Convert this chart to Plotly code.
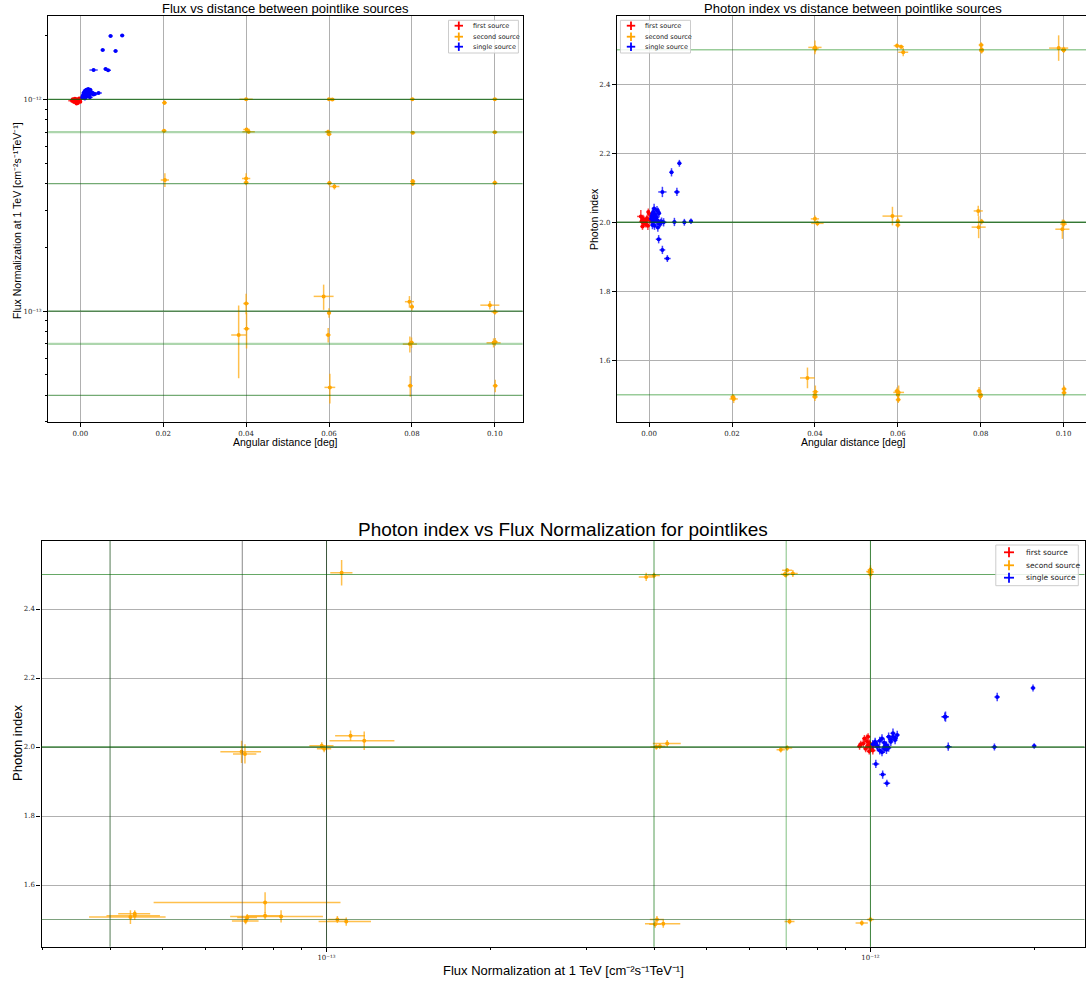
import math
import plotly.graph_objects as go

# ---------------------------------------------------------------------------
# Simulated (true) parameters of the second source
# ---------------------------------------------------------------------------
true_flux = [1e-12, 7e-13, 4e-13, 1e-13, 7e-14, 4e-14]
true_index = [2.5, 2.0, 1.5]

# ---------------------------------------------------------------------------
# Fit results: first source (reference pointlike)
# ---------------------------------------------------------------------------
first_dist = [-0.0020, -0.0015, -0.0012, -0.0010, -0.0008, -0.0005, -0.0003, 0.0000,
              -0.0018, -0.0006, -0.0013, -0.0002, -0.0009, -0.0016, 0.0002]
first_dist_err = [0.0009, 0.0006, 0.0005, 0.0006, 0.0005, 0.0004, 0.0005, 0.0004,
                  0.0005, 0.0004, 0.0005, 0.0004, 0.0005, 0.0005, 0.0004]
first_flux = [0.985e-12, 0.970e-12, 0.990e-12, 1.000e-12, 0.980e-12, 0.995e-12, 1.010e-12, 0.975e-12,
              1.000e-12, 0.960e-12, 1.005e-12, 0.990e-12, 0.955e-12, 0.995e-12, 1.012e-12]
first_flux_err = [0.012e-12, 0.010e-12, 0.010e-12, 0.012e-12, 0.010e-12, 0.010e-12, 0.012e-12, 0.010e-12,
                  0.010e-12, 0.010e-12, 0.012e-12, 0.010e-12, 0.010e-12, 0.010e-12, 0.010e-12]
first_index = [2.017, 2.010, 2.005, 2.000, 1.995, 2.012, 1.990, 2.025,
               2.003, 2.008, 1.998, 2.030, 2.002, 1.988, 2.006]
first_index_err = [0.019, 0.012, 0.010, 0.012, 0.010, 0.010, 0.012, 0.010,
                   0.010, 0.010, 0.012, 0.010, 0.010, 0.010, 0.010]

# ---------------------------------------------------------------------------
# Fit results: second source
# ---------------------------------------------------------------------------
second_dist = [0.0203, 0.0202, 0.0204,
               0.0400, 0.0401, 0.0406, 0.0400, 0.0400, 0.0400, 0.0401, 0.0382,
               0.0598, 0.0608, 0.0613, 0.0587, 0.0600, 0.0600, 0.0598, 0.0602, 0.0600, 0.0601,
               0.0801, 0.0802, 0.0802, 0.0802, 0.0794, 0.0795, 0.0800, 0.0799, 0.0796,
               0.0988, 0.1000, 0.1000, 0.1000, 0.0997, 0.1000, 0.1001, 0.1001]
second_dist_err = [0.0006, 0.0006, 0.0010,
                   0.0016, 0.0008, 0.0015, 0.0010, 0.0006, 0.0007, 0.0007, 0.0018,
                   0.0008, 0.0007, 0.0012, 0.0024, 0.0005, 0.0006, 0.0006, 0.0013, 0.0005, 0.0006,
                   0.0006, 0.0006, 0.0006, 0.0006, 0.0011, 0.0017, 0.0005, 0.0006, 0.0006,
                   0.0023, 0.0006, 0.0006, 0.0006, 0.0017, 0.0008, 0.0006, 0.0006]
second_flux = [9.64e-13, 7.10e-13, 4.16e-13,
               1.00e-12, 7.20e-13, 7.03e-13, 4.23e-13, 4.05e-13, 1.087e-13, 8.25e-14, 7.71e-14,
               7.03e-13, 9.97e-13, 3.87e-13, 1.173e-13, 9.80e-14, 6.84e-13, 7.71e-14, 4.36e-14, 1.00e-12, 4.02e-13,
               1.00e-12, 6.96e-13, 4.00e-13, 4.10e-13, 1.107e-13, 6.98e-14, 1.047e-13, 7.10e-14, 4.44e-14,
               1.066e-13, 1.00e-12, 6.99e-13, 4.04e-13, 7.08e-14, 9.90e-14, 7.15e-14, 4.44e-14]
second_flux_err = [2.5e-14, 1.5e-14, 3.1e-14,
                   1.5e-14, 1.5e-14, 1.5e-14, 2.5e-14, 1.2e-14, 1.2e-14, 1.6e-14, 2.9e-14,
                   1.5e-14, 1.5e-14, 1.2e-14, 1.6e-14, 5.0e-15, 1.2e-14, 6.0e-15, 7.0e-15, 1.5e-14, 1.0e-14,
                   1.2e-14, 1.2e-14, 1.0e-14, 1.0e-14, 7.0e-15, 6.0e-15, 4.0e-15, 4.0e-15, 5.0e-15,
                   5.0e-15, 1.2e-14, 1.0e-14, 1.0e-14, 3.5e-15, 3.0e-15, 3.0e-15, 3.0e-15]
second_index = [1.490, 1.494, 1.488,
                2.507, 2.503, 1.997, 2.010, 1.500, 1.494, 1.509, 1.549,
                2.512, 2.509, 2.493, 2.018, 2.004, 1.992, 1.511, 1.507, 1.500, 1.486,
                2.514, 2.501, 2.497, 2.002, 2.033, 1.986, 1.500, 1.496, 1.511,
                2.505, 2.501, 2.499, 2.000, 1.980, 1.995, 1.506, 1.517]
second_index_err = [0.008, 0.008, 0.012,
                    0.020, 0.010, 0.008, 0.010, 0.010, 0.012, 0.018, 0.030,
                    0.006, 0.006, 0.012, 0.027, 0.010, 0.008, 0.010, 0.020, 0.008, 0.010,
                    0.008, 0.008, 0.008, 0.008, 0.015, 0.032, 0.010, 0.010, 0.012,
                    0.037, 0.008, 0.008, 0.008, 0.028, 0.010, 0.010, 0.010]

# ---------------------------------------------------------------------------
# Fit results: both sources merged into a single pointlike
# ---------------------------------------------------------------------------
single_dist = [0.0073, 0.0101, 0.0054, 0.0085, 0.0032, 0.0061, 0.0067, 0.0023, 0.0032, 0.0044,
               0.0005, 0.0008, 0.0010, 0.0012, 0.0015, 0.0018, 0.0020, 0.0022, 0.0025, 0.0013,
               0.0009, 0.0016, 0.0019, 0.0027, 0.0011, 0.0014, 0.0006, 0.0021, 0.0017, 0.0030,
               0.0024, 0.0008, 0.0012, 0.0035]
single_dist_err = [0.0005, 0.0005, 0.0005, 0.0005, 0.0010, 0.0005, 0.0007, 0.0007, 0.0007, 0.0008,
                   0.0005, 0.0005, 0.0005, 0.0006, 0.0005, 0.0005, 0.0006, 0.0005, 0.0006, 0.0005,
                   0.0005, 0.0006, 0.0005, 0.0005, 0.0005, 0.0006, 0.0005, 0.0005, 0.0005, 0.0006,
                   0.0005, 0.0005, 0.0005, 0.0007]
single_flux = [1.99e-12, 2.00e-12, 1.71e-12, 1.69e-12, 1.374e-12, 1.39e-12, 1.37e-12, 1.023e-12, 1.053e-12, 1.072e-12,
               1.02e-12, 1.05e-12, 1.08e-12, 1.10e-12, 1.11e-12, 1.09e-12, 1.07e-12, 1.10e-12, 1.06e-12, 1.04e-12,
               1.03e-12, 1.06e-12, 1.12e-12, 1.08e-12, 1.01e-12, 1.09e-12, 1.04e-12, 1.05e-12, 1.03e-12, 1.07e-12,
               1.11e-12, 1.07e-12, 1.02e-12, 1.06e-12]
single_flux_err = [0.02e-12, 0.02e-12, 0.02e-12, 0.02e-12, 0.02e-12, 0.02e-12, 0.02e-12, 0.015e-12, 0.015e-12, 0.015e-12,
                   0.012e-12, 0.012e-12, 0.012e-12, 0.012e-12, 0.012e-12, 0.012e-12, 0.012e-12, 0.012e-12, 0.012e-12, 0.012e-12,
                   0.012e-12, 0.012e-12, 0.012e-12, 0.012e-12, 0.012e-12, 0.012e-12, 0.012e-12, 0.012e-12, 0.012e-12, 0.012e-12,
                   0.012e-12, 0.012e-12, 0.012e-12, 0.012e-12]
single_index = [2.171, 2.003, 2.145, 2.000, 2.088, 2.001, 2.088, 1.951, 1.920, 1.895,
                2.010, 2.025, 2.030, 2.040, 2.020, 2.015, 2.005, 2.030, 1.995, 1.990,
                2.000, 2.012, 2.035, 1.998, 2.008, 2.022, 2.018, 1.985, 2.003, 2.002,
                2.026, 1.992, 2.015, 2.000]
single_index_err = [0.010, 0.008, 0.012, 0.010, 0.015, 0.012, 0.012, 0.012, 0.012, 0.010,
                    0.012, 0.012, 0.012, 0.014, 0.012, 0.012, 0.012, 0.012, 0.012, 0.012,
                    0.012, 0.012, 0.012, 0.012, 0.012, 0.012, 0.012, 0.012, 0.012, 0.012,
                    0.012, 0.012, 0.012, 0.012]

series = [
    ("first source", "#ff0000", "rgba(255,0,0,0.75)",
     first_dist, first_dist_err, first_flux, first_flux_err, first_index, first_index_err),
    ("second source", "#ffa500", "rgba(255,165,0,0.7)",
     second_dist, second_dist_err, second_flux, second_flux_err, second_index, second_index_err),
    ("single source", "#0000ff", "rgba(0,0,255,0.75)",
     single_dist, single_dist_err, single_flux, single_flux_err, single_index, single_index_err),
]

# tick labels
dist_ticks = [0.00, 0.02, 0.04, 0.06, 0.08, 0.10]
index_ticks = [1.6, 1.8, 2.0, 2.2, 2.4]
flux_major = [1e-13, 1e-12]
flux_major_text = ["10⁻¹³", "10⁻¹²"]

# axis limits
dist_range = [-0.00775, 0.1067]
logflux_range = [-13.524, -11.6065]
index_range = [1.4212, 2.598]

flux_minor = [m * 10.0 ** e for e in (-14, -13, -12) for m in range(2, 10)
              if logflux_range[0] < e + math.log10(m) < logflux_range[1]]

W, H = 1086, 982


def px_x(p):
    return p / W


def px_y(p):
    return 1 - p / H


fig = go.Figure()

panels = [("x", "y", "dist", "flux"), ("x2", "y2", "dist", "index"), ("x3", "y3", "flux", "index")]

for xa, ya, kx, ky in panels:
    for name, col, ecol, d, de, f, fe, ix, ie in series:
        vals = {"dist": (d, de), "flux": (f, fe), "index": (ix, ie)}
        xv, xe = vals[kx]
        yv, ye = vals[ky]
        fig.add_trace(go.Scatter(
            x=xv, y=yv, mode="markers", xaxis=xa, yaxis=ya, showlegend=False, name=name,
            marker=dict(color=col, size=4, line=dict(width=0)),
            error_x=dict(type="data", array=xe, color=ecol, thickness=1.5, width=0),
            error_y=dict(type="data", array=ye, color=ecol, thickness=1.5, width=0),
        ))

# reference lines at the simulated values
flux_line_style = {1e-12: ("rgba(0,95,0,0.7)", 1.2), 7e-13: ("rgba(0,128,0,0.32)", 2.2),
                   4e-13: ("rgba(0,100,0,0.55)", 1.3), 1e-13: ("rgba(0,95,0,0.7)", 1.2),
                   7e-14: ("rgba(0,128,0,0.32)", 2.2), 4e-14: ("rgba(0,100,0,0.55)", 1.3)}
index_line_style = {2.5: ("rgba(0,128,0,0.4)", 1.5), 2.0: ("rgba(0,95,0,0.7)", 1.4),
                    1.5: ("rgba(0,128,0,0.4)", 1.5)}
flux_vline_style = {1e-12: ("rgba(0,110,0,0.6)", 1.1), 7e-13: ("rgba(0,128,0,0.45)", 1.1),
                    4e-13: ("rgba(0,110,0,0.6)", 1.1), 1e-13: ("rgba(40,70,40,0.85)", 1.0),
                    7e-14: ("rgba(70,70,70,0.8)", 0.8), 4e-14: ("rgba(40,90,40,0.8)", 1.0)}
index_hline_bottom = {2.5: ("rgba(0,110,0,0.6)", 1.2), 2.0: ("rgba(0,95,0,0.7)", 1.7),
                      1.5: ("rgba(40,100,40,0.6)", 1.2)}

shapes = []
for fv in true_flux:
    c, w = flux_line_style[fv]
    shapes.append(dict(type="line", xref="x domain", yref="y", x0=0, x1=1, y0=fv, y1=fv,
                       line=dict(color=c, width=w), layer="above"))
    c, w = flux_vline_style[fv]
    shapes.append(dict(type="line", xref="x3", yref="y3 domain", x0=fv, x1=fv, y0=0, y1=1,
                       line=dict(color=c, width=w), layer="above"))
for iv in true_index:
    c, w = index_line_style[iv]
    shapes.append(dict(type="line", xref="x2 domain", yref="y2", x0=0, x1=1, y0=iv, y1=iv,
                       line=dict(color=c, width=w), layer="above"))
    c, w = index_hline_bottom[iv]
    shapes.append(dict(type="line", xref="x3 domain", yref="y3", x0=0, x1=1, y0=iv, y1=iv,
                       line=dict(color=c, width=w), layer="above"))

annotations = []


def add_legend(left, top, right, bottom, row_y, key_x, text_x, key_half, font_size):
    """Boxed legend with error-bar style keys, placed in pixel coordinates."""
    shapes.append(dict(type="rect", xref="paper", yref="paper",
                       x0=px_x(left), x1=px_x(right), y0=px_y(bottom), y1=px_y(top),
                       line=dict(color="#cccccc", width=1), fillcolor="rgba(255,255,255,0.85)",
                       layer="above"))
    for (name, col, *_), yy in zip(series, row_y):
        shapes.append(dict(type="line", xref="paper", yref="paper",
                           x0=px_x(key_x - key_half), x1=px_x(key_x + key_half),
                           y0=px_y(yy), y1=px_y(yy), line=dict(color=col, width=1.8), layer="above"))
        shapes.append(dict(type="line", xref="paper", yref="paper",
                           x0=px_x(key_x), x1=px_x(key_x),
                           y0=px_y(yy - key_half), y1=px_y(yy + key_half),
                           line=dict(color=col, width=1.8), layer="above"))
        annotations.append(dict(text=name, x=px_x(text_x), y=px_y(yy), xanchor="left",
                                yanchor="middle", xref="paper", yref="paper", showarrow=False,
                                font=dict(family="DejaVu Sans", size=font_size, color="#222")))


add_legend(448.5, 20.3, 518.4, 53.0, [25.7, 36.7, 46.7], 458.8, 471.0, 4.2, 6.5)
add_legend(620.4, 20.3, 690.5, 53.0, [25.7, 36.7, 46.7], 631.0, 643.0, 4.2, 6.5)
add_legend(995.8, 545.0, 1078.3, 585.7, [552.3, 565.3, 577.7], 1009.0, 1024.0, 5.0, 7.5)

tick_font = dict(family="DejaVu Serif", size=7, color="#222")
grid_col = "#b0b0b0"
axis_common = dict(showline=True, linecolor="black", linewidth=1.3, ticks="outside",
                   ticklen=4, tickwidth=1, tickcolor="black", tickfont=tick_font,
                   gridcolor=grid_col, gridwidth=1, zeroline=False)

minor_log = dict(ticks="outside", ticklen=2, tickwidth=0.8, tickcolor="black",
                 tickvals=flux_minor, showgrid=False)

# plot areas in pixels: (left, right, top, bottom)
tl = (48.2, 522.6, 16, 422)
tr = (617.0, 1086.0, 16, 422)
bt = (41.5, 1084.5, 540.7, 946.7)

fig.update_layout(
    width=W, height=H, margin=dict(l=0, r=0, t=0, b=0),
    paper_bgcolor="white", plot_bgcolor="white", showlegend=False,
    xaxis=dict(domain=[px_x(tl[0]), px_x(tl[1])], anchor="y", range=dist_range,
               tickvals=dist_ticks, tickformat=".2f", mirror=True, showgrid=True, **axis_common),
    yaxis=dict(domain=[px_y(tl[3]), px_y(tl[2])], anchor="x", type="log", range=logflux_range,
               tickvals=flux_major, ticktext=flux_major_text, mirror=True, showgrid=True,
               minor=minor_log, **axis_common),
    xaxis2=dict(domain=[px_x(tr[0]), 1.0], anchor="y2",
                range=[dist_range[0], dist_range[0] + (dist_range[1] - dist_range[0]) * (tr[1] - tr[0]) / (tl[1] - tl[0])],
                tickvals=dist_ticks, tickformat=".2f", mirror=True, showgrid=True, **axis_common),
    yaxis2=dict(domain=[px_y(tr[3]), px_y(tr[2])], anchor="x2", range=index_range,
                tickvals=index_ticks, tickformat=".1f", mirror=False, showgrid=True, **axis_common),
    xaxis3=dict(domain=[px_x(bt[0]), px_x(bt[1])], anchor="y3", type="log", range=logflux_range,
                tickvals=flux_major, ticktext=flux_major_text, mirror=True, showgrid=True,
                minor=minor_log, **axis_common),
    yaxis3=dict(domain=[px_y(bt[3]), px_y(bt[2])], anchor="x3", range=index_range,
                tickvals=index_ticks, tickformat=".1f", mirror=True, showgrid=True, **axis_common),
)

title_font = dict(family="Liberation Sans", color="black")
texts = [
    ("Flux vs distance between pointlike sources", 285, 8, 13, 0),
    ("Photon index vs distance between pointlike sources", 853, 8, 13, 0),
    ("Photon index vs Flux Normalization for pointlikes", 563, 529, 19, 0),
    ("Angular distance [deg]", 285, 442, 10.5, 0),
    ("Angular distance [deg]", 853, 442, 10.5, 0),
    ("Flux Normalization at 1 TeV [cm⁻²s⁻¹TeV⁻¹]", 17, 221, 10.5, -90),
    ("Photon index", 594, 219, 10.5, -90),
    ("Flux Normalization at 1 TeV [cm⁻²s⁻¹TeV⁻¹]", 563, 970, 13, 0),
    ("Photon index", 17, 743, 13, -90),
]
for t, x, y, s, ang in texts:
    annotations.append(dict(text=t, x=px_x(x), y=px_y(y), textangle=ang, xref="paper", yref="paper",
                            showarrow=False, xanchor="center", yanchor="middle",
                            font=dict(size=s, **title_font)))

fig.update_layout(shapes=shapes, annotations=annotations)

fig.write_html("out.html")
